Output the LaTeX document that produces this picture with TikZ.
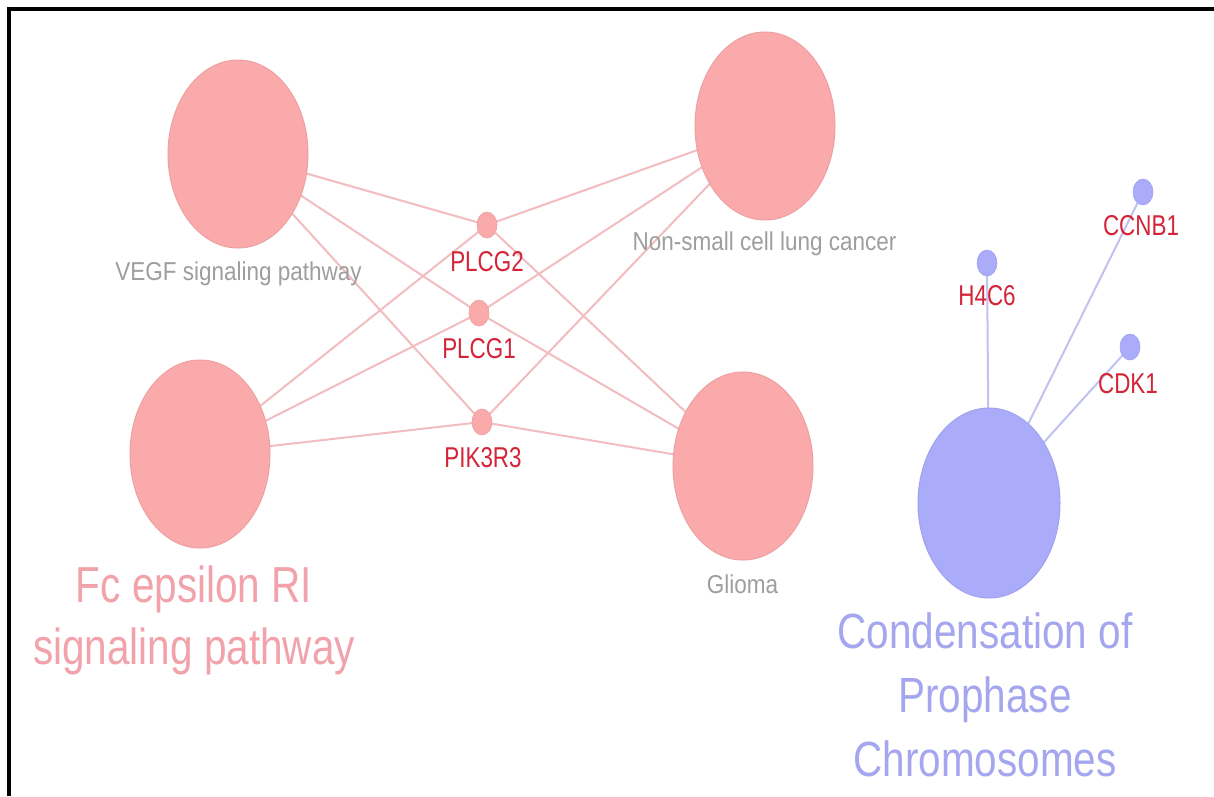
\documentclass[tikz,border=0pt]{standalone}
\usepackage{fontspec}
\setmainfont{Liberation Sans}
\usetikzlibrary{shapes.geometric}
\definecolor{pinkfill}{RGB}{251,170,172}
\definecolor{pinkdraw}{RGB}{236,160,162}
\definecolor{pinkedge}{RGB}{242,188,192}
\definecolor{pinktext}{RGB}{242,162,170}
\definecolor{bluefill}{RGB}{170,172,250}
\definecolor{bluedraw}{RGB}{160,162,240}
\definecolor{blueedge}{RGB}{192,194,240}
\definecolor{bluetext}{RGB}{165,166,240}
\definecolor{genered}{RGB}{212,36,56}
\definecolor{graytext}{RGB}{158,158,158}
\newcommand{\vstretch}[2]{\scalebox{1}[#1]{#2}}
\tikzset{
  bignode/.style={ellipse, inner sep=0pt, minimum width=140pt, minimum height=188pt, line width=1pt},
  pinkbig/.style={bignode, fill=pinkfill, draw=pinkdraw},
  bluebig/.style={bignode, fill=bluefill, draw=bluedraw, minimum width=142pt, minimum height=190pt},
  gene/.style={ellipse, inner sep=0pt, minimum width=20pt, minimum height=26pt},
  pinkgene/.style={gene, fill=pinkfill, draw=pinkdraw, line width=0.6pt},
  bluegene/.style={gene, fill=bluefill, draw=bluedraw, line width=0.6pt},
  genelabel/.style={inner sep=0pt, anchor=base, text=genered, font=\fontsize{22.4}{26}\selectfont},
  graylabel/.style={inner sep=0pt, anchor=base, text=graytext, font=\fontsize{22.5}{26}\selectfont},
  pedge/.style={draw=pinkedge, line width=2pt},
  bedge/.style={draw=blueedge, line width=2pt},
  frame/.style={draw=black, line width=4pt}
}
\begin{document}
\begin{tikzpicture}[x=1pt, y=-1pt]
\useasboundingbox (0,0) rectangle (1214,796);
\fill[white] (0,0) rectangle (1214,796);
% frame
\coordinate (fbl) at (9.3,796);
\coordinate (ftl) at (9.3,8.5);
\coordinate (ftr) at (1214,8.5);
\draw[frame] (fbl) -- (ftl) -- (ftr);
% coordinates for nodes (edges drawn first, under nodes)
\path (238,154) coordinate (cvegf)
      (200,454) coordinate (cfc)
      (765,126) coordinate (cnsclc)
      (743,466) coordinate (cglioma)
      (989,503) coordinate (ccond)
      (487,225) coordinate (cplcgtwo)
      (479,313) coordinate (cplcgone)
      (482,422) coordinate (cpik)
      (987,263) coordinate (ch4c6)
      (1143,192) coordinate (cccnb)
      (1130,347) coordinate (ccdk);
% edges
\foreach \p in {cvegf,cfc,cnsclc,cglioma}{
  \foreach \g in {cplcgtwo,cplcgone,cpik}{
    \draw[pedge] (\p) -- (\g);
  }
}
\foreach \g in {ch4c6,cccnb,ccdk}{
  \draw[bedge] (ccond) -- (\g);
}
% big nodes
\node[pinkbig] (vegf) at (cvegf) {};
\node[pinkbig] (fc) at (cfc) {};
\node[pinkbig] (nsclc) at (cnsclc) {};
\node[pinkbig] (glioma) at (cglioma) {};
\node[bluebig] (cond) at (ccond) {};
% gene nodes
\node[pinkgene] (plcgtwo) at (cplcgtwo) {};
\node[pinkgene] (plcgone) at (cplcgone) {};
\node[pinkgene] (pik) at (cpik) {};
\node[bluegene] (h4c6) at (ch4c6) {};
\node[bluegene] (ccnb) at (cccnb) {};
\node[bluegene] (cdk) at (ccdk) {};
% gene labels
\node[genelabel] (lplcgtwo) at (487,271) {\vstretch{1.28}{PLCG2}};
\node[genelabel] (lplcgone) at (479,358) {\vstretch{1.28}{PLCG1}};
\node[genelabel] (lpik) at (483,467) {\vstretch{1.28}{PIK3R3}};
\node[genelabel] (lh4c6) at (987,305) {\vstretch{1.28}{H4C6}};
\node[genelabel] (lccnb) at (1141,235) {\vstretch{1.28}{CCNB1}};
\node[genelabel] (lcdk) at (1128,393) {\vstretch{1.28}{CDK1}};
% gray labels
\node[graylabel] (lvegf) at (238.5,280) {\vstretch{1.15}{VEGF signaling pathway}};
\node[graylabel] (lnsclc) at (764.5,250) {\vstretch{1.15}{Non-small cell lung cancer}};
\node[graylabel] (lglioma) at (742.5,593) {\vstretch{1.15}{Glioma}};
% big labels
\node[inner sep=0pt, anchor=base, text=pinktext] (lfc) at (194,602)
  {\vstretch{1.25}{\fontsize{40.5}{50}\selectfont\begin{tabular}[t]{@{}c@{}}Fc epsilon RI\\signaling pathway\end{tabular}}};
\node[inner sep=0pt, anchor=base, text=bluetext] (lcond) at (985,648)
  {\vstretch{1.22}{\fontsize{40.5}{52.8}\selectfont\begin{tabular}[t]{@{}c@{}}Condensation of\\Prophase\\Chromosomes\end{tabular}}};
\end{tikzpicture}
\end{document}
